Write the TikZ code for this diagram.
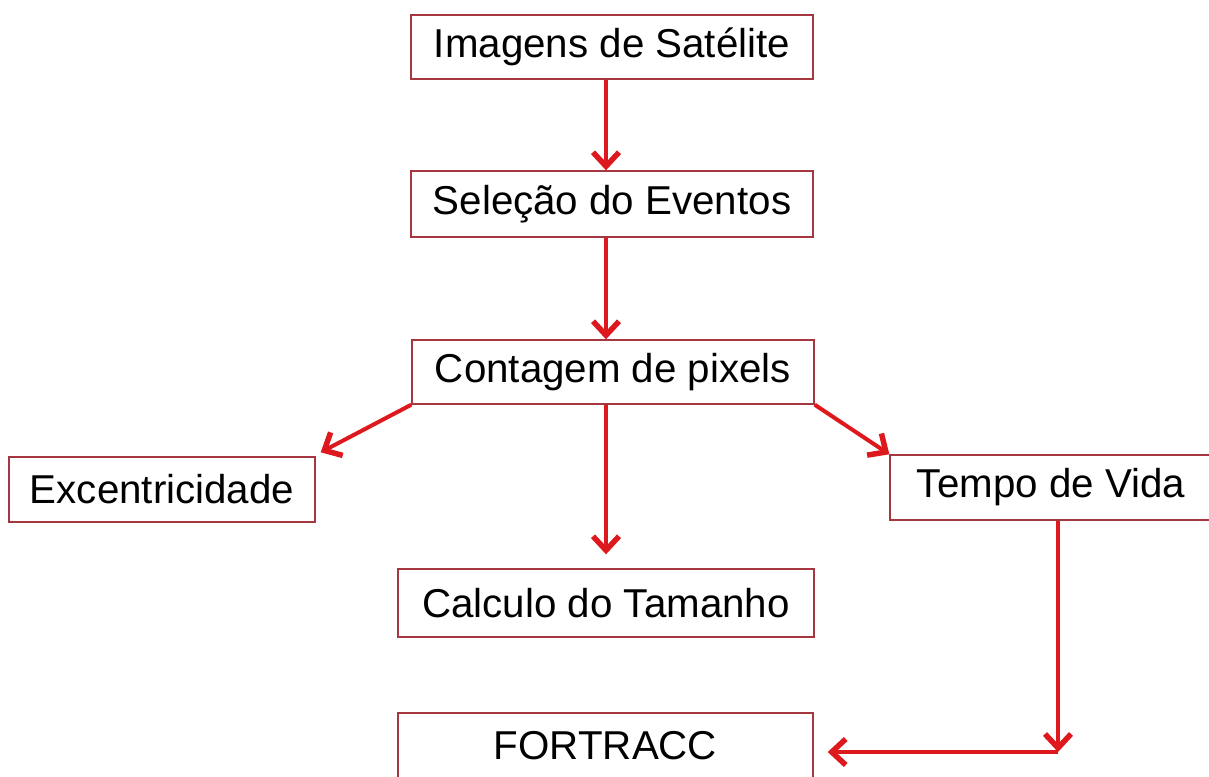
\documentclass[tikz,border=0pt]{standalone}
\usepackage{fontspec}
\setmainfont{Liberation Sans}
\usetikzlibrary{arrows.meta,calc}
\definecolor{boxred}{RGB}{165,55,65}
\definecolor{arrred}{RGB}{222,25,30}
\begin{document}
\begin{tikzpicture}[x=1pt,y=-1pt,
  box/.style={draw=boxred,line width=1.4pt,fill=white,rectangle,inner sep=0pt,
    font=\fontsize{40.3}{46}\selectfont,text=black},
  arr/.style={draw=arrred,line width=4pt,-{Straight Barb[length=14pt,width=26pt,line width=5.5pt 0 1]}}]
\useasboundingbox (0,0) rectangle (1209,776);
\node[box,minimum width=402pt,minimum height=64pt] (sat) at (612,47) {Imagens de Satélite};
\node[box,minimum width=402pt,minimum height=66pt] (sel) at (612,204) {Seleção do Eventos};
\node[box,minimum width=402pt,minimum height=64pt] (cont) at (613,372) {Contagem de pixels};
\node[box,minimum width=306pt,minimum height=65pt] (exc) at (162,489.5) {Excentricidade};
\node[box,minimum width=322pt,minimum height=65pt] (tempo) at (1051,487.5) {Tempo de Vida};
\node[box,minimum width=416pt,minimum height=68pt] (calc) at (606,603) {Calculo do Tamanho};
\node[box,minimum width=415pt,minimum height=65pt] (fort) at (605.5,745.5) {FORTRACC};
\coordinate (corner) at (1058,752);
\draw[arr] (sat.south -| calc.center) -- (sel.north -| calc.center);
\draw[arr] (sel.south -| calc.center) -- (cont.north -| calc.center);
\draw[arr,shorten >=14pt] (cont.south -| calc.center) -- (calc.north);
\draw[arr] (cont.south west) -- ($(exc.north east)+(5,-4)$);
\draw[arr] (cont.south east) -- (tempo.north west);
\draw[arr] (tempo.south -| corner) -- (corner);
\draw[arr,shorten >=14pt] (corner) -- (corner -| fort.east);
\end{tikzpicture}
\end{document}
